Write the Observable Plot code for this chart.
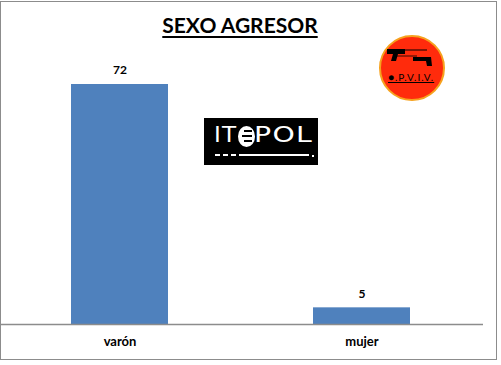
<!DOCTYPE html>
<html><head><meta charset="utf-8">
<script src="https://cdn.jsdelivr.net/npm/d3@7"></script>
<script src="https://cdn.jsdelivr.net/npm/@observablehq/plot@0.6"></script>
<style>
body{margin:0;background:#fff;font-family:Lato,"Open Sans",sans-serif;}
#wrap{position:relative;width:501px;height:365px;overflow:hidden;}
#frame{position:absolute;left:0;top:1px;width:495px;height:357px;border:1px solid #8c8c8c;box-sizing:content-box;}
#title{position:absolute;left:0;width:480px;top:12px;text-align:center;font:bold 21px Lato,sans-serif;color:#000;}
#title span{text-decoration:underline;text-decoration-thickness:2px;text-underline-offset:3px;}
#chart{position:absolute;left:0;top:0;}
#itepol{position:absolute;left:204px;top:118px;width:114px;height:47px;background:#000;color:#fff;}
#itepol .t{position:absolute;top:5px;font:normal 21px "DejaVu Sans",sans-serif;transform-origin:left center;white-space:nowrap;}
#itepol .c{position:absolute;left:34px;top:8px;width:17px;height:21px;border-radius:50%;background:#fff;}
#itepol .c i{position:absolute;right:3px;height:2px;background:#000;}
#opviv{position:absolute;left:379px;top:35px;width:62px;height:62px;border-radius:50%;background:#ff2b0c;border:2px solid #f6a21e;}
#opviv .txt{position:absolute;left:7px;top:34px;font:normal 10px Lato,sans-serif;color:#000;text-decoration:underline;letter-spacing:1px;}
</style></head>
<body><div id="wrap">
<div id="frame"></div>
<div id="chart"></div>
<div id="title"><span>SEXO AGRESOR</span></div>
<div id="itepol"><span class="t" style="left:10px;letter-spacing:1px;transform:scaleX(1.1)">IT</span><span class="c"><i style="top:4px;width:8px"></i><i style="top:9px;width:10px"></i><i style="top:14px;width:8px"></i></span><span class="t" style="left:50px;letter-spacing:1px;transform:scaleX(1.35)">POL</span>
<svg width="100" height="4" style="position:absolute;left:11px;top:36px">
<line x1="0" y1="1" x2="22" y2="1" stroke="#fff" stroke-width="2" stroke-dasharray="5 3"/>
<line x1="24" y1="1" x2="94" y2="1" stroke="#fff" stroke-width="2"/>
<rect x="97" y="1" width="2" height="2" fill="#fff"/>
</svg>
</div>
<div id="opviv">
<svg width="62" height="34" style="position:absolute;left:0;top:0">
<path d="M6 12 L24 12 L24 17 L17 17 L15 24 L10 24 L12 17 L6 17 Z" fill="#000"/>
<line x1="24" y1="13" x2="46" y2="13" stroke="#000" stroke-width="1"/>
<line x1="14" y1="19" x2="36" y2="19" stroke="#000" stroke-width="0.8"/>
<path d="M32 20 L50 20 L51 29 L46 29 L45 24 L32 24 Z" fill="#000"/>
</svg>
<div class="txt">●.P.V.I.V.</div>
</div>
</div>
<script>
const categories = ["varón", "mujer"];
const values = [72, 5];
const data = categories.map((c, i) => ({cat: c, val: values[i]}));

const chart = Plot.plot({
  width: 501,
  height: 365,
  marginLeft: 0,
  marginRight: 18,
  marginTop: 0,
  marginBottom: 41,
  style: {fontFamily: "Lato, sans-serif", background: "transparent"},
  x: {domain: categories, range: [-2, 483], paddingInner: 0.6, paddingOuter: 0.3, label: null},
  y: {domain: [0, 72], range: [324, 84], axis: null},
  marks: [
    Plot.barY(data, {x: "cat", y: "val", fill: "#4f81bd"}),
    Plot.ruleY([0], {stroke: "#8c8c8c", strokeWidth: 1.3}),
    Plot.text(data, {x: "cat", y: "val", text: d => String(d.val), dy: -14, fontWeight: "bold", fontSize: 12, fill: "#000"}),
    Plot.axisX({tickSize: 0, tickPadding: 12, fontSize: 13, fontWeight: "bold", fill: "#000", label: null})
  ]
});
document.getElementById("chart").appendChild(chart);
</script>
</body></html>
